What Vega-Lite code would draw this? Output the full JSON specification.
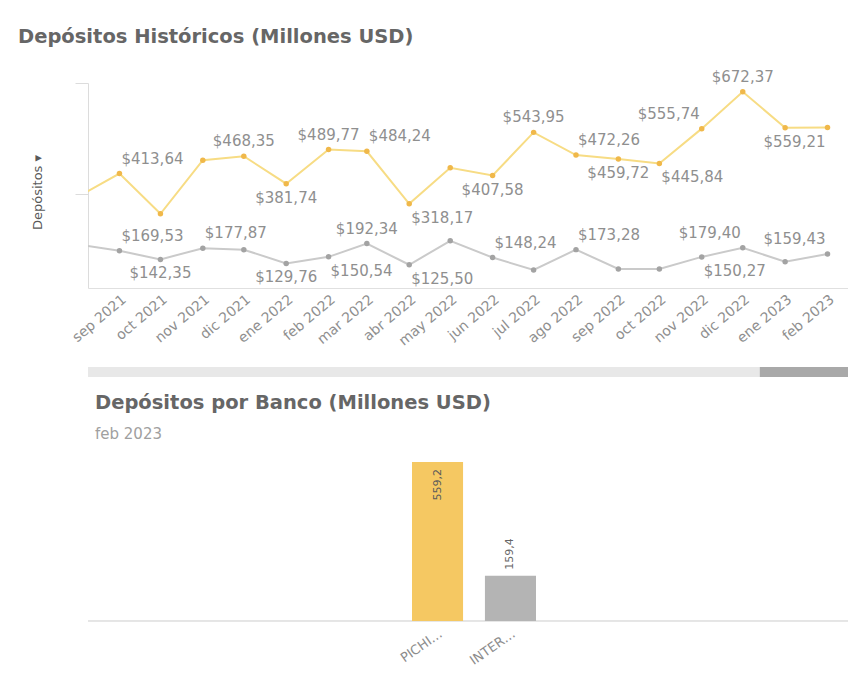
{
  "$schema": "https://vega.github.io/schema/vega-lite/v6.json",
  "padding": {"left": 18, "top": 27, "right": 0, "bottom": 0},
  "background": "white",
  "datasets": {
    "depositos": [
      {"fecha": "2021-08-01", "mes": "ago 2021", "banco": "PICHINCHA", "valor": 339.0},
      {"fecha": "2021-09-01", "mes": "sep 2021", "banco": "PICHINCHA", "valor": 413.64},
      {"fecha": "2021-10-01", "mes": "oct 2021", "banco": "PICHINCHA", "valor": 286.5},
      {"fecha": "2021-11-01", "mes": "nov 2021", "banco": "PICHINCHA", "valor": 456.0},
      {"fecha": "2021-12-01", "mes": "dic 2021", "banco": "PICHINCHA", "valor": 468.35},
      {"fecha": "2022-01-01", "mes": "ene 2022", "banco": "PICHINCHA", "valor": 381.74},
      {"fecha": "2022-02-01", "mes": "feb 2022", "banco": "PICHINCHA", "valor": 489.77},
      {"fecha": "2022-03-01", "mes": "mar 2022", "banco": "PICHINCHA", "valor": 484.24},
      {"fecha": "2022-04-01", "mes": "abr 2022", "banco": "PICHINCHA", "valor": 318.17},
      {"fecha": "2022-05-01", "mes": "may 2022", "banco": "PICHINCHA", "valor": 432.0},
      {"fecha": "2022-06-01", "mes": "jun 2022", "banco": "PICHINCHA", "valor": 407.58},
      {"fecha": "2022-07-01", "mes": "jul 2022", "banco": "PICHINCHA", "valor": 543.95},
      {"fecha": "2022-08-01", "mes": "ago 2022", "banco": "PICHINCHA", "valor": 472.26},
      {"fecha": "2022-09-01", "mes": "sep 2022", "banco": "PICHINCHA", "valor": 459.72},
      {"fecha": "2022-10-01", "mes": "oct 2022", "banco": "PICHINCHA", "valor": 445.84},
      {"fecha": "2022-11-01", "mes": "nov 2022", "banco": "PICHINCHA", "valor": 555.74},
      {"fecha": "2022-12-01", "mes": "dic 2022", "banco": "PICHINCHA", "valor": 672.37},
      {"fecha": "2023-01-01", "mes": "ene 2023", "banco": "PICHINCHA", "valor": 558.5},
      {"fecha": "2023-02-01", "mes": "feb 2023", "banco": "PICHINCHA", "valor": 559.21},
      {"fecha": "2021-08-01", "mes": "ago 2021", "banco": "INTERNACIONAL", "valor": 190.0},
      {"fecha": "2021-09-01", "mes": "sep 2021", "banco": "INTERNACIONAL", "valor": 169.53},
      {"fecha": "2021-10-01", "mes": "oct 2021", "banco": "INTERNACIONAL", "valor": 142.35},
      {"fecha": "2021-11-01", "mes": "nov 2021", "banco": "INTERNACIONAL", "valor": 177.87},
      {"fecha": "2021-12-01", "mes": "dic 2021", "banco": "INTERNACIONAL", "valor": 173.0},
      {"fecha": "2022-01-01", "mes": "ene 2022", "banco": "INTERNACIONAL", "valor": 129.76},
      {"fecha": "2022-02-01", "mes": "feb 2022", "banco": "INTERNACIONAL", "valor": 150.54},
      {"fecha": "2022-03-01", "mes": "mar 2022", "banco": "INTERNACIONAL", "valor": 192.34},
      {"fecha": "2022-04-01", "mes": "abr 2022", "banco": "INTERNACIONAL", "valor": 125.5},
      {"fecha": "2022-05-01", "mes": "may 2022", "banco": "INTERNACIONAL", "valor": 201.0},
      {"fecha": "2022-06-01", "mes": "jun 2022", "banco": "INTERNACIONAL", "valor": 148.24},
      {"fecha": "2022-07-01", "mes": "jul 2022", "banco": "INTERNACIONAL", "valor": 109.0},
      {"fecha": "2022-08-01", "mes": "ago 2022", "banco": "INTERNACIONAL", "valor": 173.28},
      {"fecha": "2022-09-01", "mes": "sep 2022", "banco": "INTERNACIONAL", "valor": 112.0},
      {"fecha": "2022-10-01", "mes": "oct 2022", "banco": "INTERNACIONAL", "valor": 112.0},
      {"fecha": "2022-11-01", "mes": "nov 2022", "banco": "INTERNACIONAL", "valor": 150.27},
      {"fecha": "2022-12-01", "mes": "dic 2022", "banco": "INTERNACIONAL", "valor": 179.4},
      {"fecha": "2023-01-01", "mes": "ene 2023", "banco": "INTERNACIONAL", "valor": 135.0},
      {"fecha": "2023-02-01", "mes": "feb 2023", "banco": "INTERNACIONAL", "valor": 159.43}
    ],
    "desplazamiento": [
      {"parte": "pista", "desde": 0, "hasta": 100},
      {"parte": "cursor", "desde": 88.4, "hasta": 100}
    ]
  },
  "bounds": "flush",
  "spacing": 79,
  "resolve": {"scale": {"color": "independent", "fill": "independent"}},
  "vconcat": [
    {
      "width": 760,
      "height": 205,
      "data": {"name": "depositos"},
      "title": {"text": "Depósitos Históricos (Millones USD)", "anchor": "start", "frame": "group", "dx": -70, "offset": 22, "fontSize": 19.5, "fontWeight": "bold", "color": "#666666"},
      "encoding": {
        "x": {
          "field": "fecha", "type": "temporal",
          "scale": {"type": "utc", "domain": [{"year": 2021, "month": 8, "date": 9, "utc": true}, {"year": 2023, "month": 2, "date": 16, "utc": true}]},
          "axis": {"title": null, "tickCount": {"interval": "month", "step": 1}, "format": "%b %Y", "formatType": "time", "labelAngle": -40, "labelAlign": "right", "labelBaseline": "top", "labelFontSize": 14, "labelColor": "#8f8f8f", "labelPadding": 4, "labelFlush": false, "labelOverlap": false, "ticks": false, "domainColor": "#e0e0e0", "grid": false}
        },
        "y": {
          "field": "valor", "type": "quantitative",
          "scale": {"domain": [52, 700], "nice": false, "zero": false},
          "axis": {"values": [350, 700], "labels": false, "tickSize": 13, "tickColor": "#dcdcdc", "domainColor": "#dcdcdc", "grid": false, "title": "Depósitos      ▾", "titleFontSize": 13, "titleFontWeight": "normal", "titleColor": "#595959", "titlePadding": 30, "titleY": 109, "titleAlign": "center"}
        }
      },
      "layer": [
        {
          "mark": {"type": "line", "strokeWidth": 2, "clip": true},
          "encoding": {"color": {"field": "banco", "type": "nominal", "scale": {"domain": ["PICHINCHA", "INTERNACIONAL"], "range": ["#f7dc84", "#cacaca"]}, "legend": null}}
        },
        {
          "mark": {"type": "point", "filled": true, "size": 30, "opacity": 1, "clip": true},
          "encoding": {"fill": {"field": "banco", "type": "nominal", "scale": {"domain": ["PICHINCHA", "INTERNACIONAL"], "range": ["#f0b84a", "#a3a3a3"]}, "legend": null}}
        },
        {
          "transform": [{"filter": "indexof(['P|sep 2021','P|mar 2022','P|ago 2022','I|sep 2021','I|nov 2021','I|jun 2022','I|ago 2022'], substring(datum.banco,0,1) + '|' + datum.mes) >= 0"}],
          "mark": {"type": "text", "align": "left", "baseline": "bottom", "dx": 2, "dy": -7, "fontSize": 15, "color": "#8f8f8f"},
          "encoding": {"text": {"field": "valor", "type": "quantitative", "format": "$.2f"}}
        },
        {
          "transform": [{"filter": "indexof(['P|dic 2021','P|feb 2022','P|jul 2022','P|dic 2022','I|mar 2022'], substring(datum.banco,0,1) + '|' + datum.mes) >= 0"}],
          "mark": {"type": "text", "align": "center", "baseline": "bottom", "dy": -7, "fontSize": 15, "color": "#8f8f8f"},
          "encoding": {"text": {"field": "valor", "type": "quantitative", "format": "$.2f"}}
        },
        {
          "transform": [{"filter": "indexof(['P|nov 2022','I|dic 2022','I|feb 2023'], substring(datum.banco,0,1) + '|' + datum.mes) >= 0"}],
          "mark": {"type": "text", "align": "right", "baseline": "bottom", "dx": -2, "dy": -7, "fontSize": 15, "color": "#8f8f8f"},
          "encoding": {"text": {"field": "valor", "type": "quantitative", "format": "$.2f"}}
        },
        {
          "transform": [{"filter": "indexof(['P|abr 2022','P|oct 2022','I|feb 2022','I|abr 2022','I|nov 2022'], substring(datum.banco,0,1) + '|' + datum.mes) >= 0"}],
          "mark": {"type": "text", "align": "left", "baseline": "top", "dx": 2, "dy": 7, "fontSize": 15, "color": "#8f8f8f"},
          "encoding": {"text": {"field": "valor", "type": "quantitative", "format": "$.2f"}}
        },
        {
          "transform": [{"filter": "indexof(['P|ene 2022','P|jun 2022','P|sep 2022','I|oct 2021','I|ene 2022'], substring(datum.banco,0,1) + '|' + datum.mes) >= 0"}],
          "mark": {"type": "text", "align": "center", "baseline": "top", "dy": 7, "fontSize": 15, "color": "#8f8f8f"},
          "encoding": {"text": {"field": "valor", "type": "quantitative", "format": "$.2f"}}
        },
        {
          "transform": [{"filter": "indexof(['P|feb 2023'], substring(datum.banco,0,1) + '|' + datum.mes) >= 0"}],
          "mark": {"type": "text", "align": "right", "baseline": "top", "dx": -2, "dy": 7, "fontSize": 15, "color": "#8f8f8f"},
          "encoding": {"text": {"field": "valor", "type": "quantitative", "format": "$.2f"}}
        }
      ]
    },
    {
      "width": 760,
      "height": 10,
      "data": {"name": "desplazamiento"},
      "mark": {"type": "rect"},
      "encoding": {
        "x": {"field": "desde", "type": "quantitative", "scale": {"domain": [0, 100], "nice": false, "zero": false}, "axis": null},
        "x2": {"field": "hasta"},
        "color": {"field": "parte", "type": "nominal", "scale": {"domain": ["pista", "cursor"], "range": ["#e8e8e8", "#a9a9a9"]}, "legend": null}
      }
    },
    {
      "width": 760,
      "height": 165,
      "data": {"name": "depositos"},
      "transform": [{"filter": "datum.mes == 'feb 2023'"}],
      "title": {"text": "Depósitos por Banco (Millones USD)", "subtitle": "feb 2023", "anchor": "start", "frame": "group", "dx": 7, "offset": 13, "fontSize": 19.5, "fontWeight": "bold", "color": "#666666", "subtitleFontSize": 15, "subtitleColor": "#a0a0a0", "subtitlePadding": 14},
      "encoding": {
        "x": {
          "field": "banco", "type": "nominal", "sort": ["PICHINCHA", "INTERNACIONAL"],
          "scale": {"range": [324, 448], "paddingInner": 0.3, "paddingOuter": 0},
          "axis": {"title": null, "labelAngle": -35, "labelAlign": "right", "labelBaseline": "top", "labelLimit": 53, "ticks": false, "domain": false, "labelColor": "#8c8c8c", "labelFontSize": 13, "labelPadding": 6}
        },
        "y": {"field": "valor", "type": "quantitative", "scale": {"domain": [0, 580], "nice": false}, "axis": null}
      },
      "layer": [
        {
          "mark": {"type": "rule", "color": "#dddddd", "strokeWidth": 1},
          "encoding": {"y": {"datum": 0}, "x": null}
        },
        {
          "mark": {"type": "bar"},
          "encoding": {"color": {"field": "banco", "type": "nominal", "scale": {"domain": ["PICHINCHA", "INTERNACIONAL"], "range": ["#f5c862", "#b4b4b4"]}, "legend": null}}
        },
        {
          "transform": [{"filter": "datum.valor > 300"}],
          "mark": {"type": "text", "angle": 270, "align": "right", "baseline": "middle", "dx": -7, "fontSize": 11, "color": "#5a5a5a"},
          "encoding": {"text": {"field": "valor", "type": "quantitative", "format": ".1f"}}
        },
        {
          "transform": [{"filter": "datum.valor <= 300"}],
          "mark": {"type": "text", "angle": 270, "align": "left", "baseline": "middle", "dx": 6, "fontSize": 11, "color": "#666666"},
          "encoding": {"text": {"field": "valor", "type": "quantitative", "format": ".1f"}}
        }
      ]
    }
  ],
  "config": {
    "font": "DejaVu Sans",
    "view": {"stroke": null},
    "axis": {"grid": false, "labelFont": "DejaVu Sans", "titleFont": "DejaVu Sans"},
    "title": {"font": "DejaVu Sans", "subtitleFont": "DejaVu Sans"},
    "text": {"font": "DejaVu Sans"},
    "locale": {
      "number": {"decimal": ",", "thousands": ".", "grouping": [3], "currency": ["$", ""]},
      "time": {
        "dateTime": "%A, %e de %B de %Y, %X",
        "date": "%d/%m/%Y",
        "time": "%H:%M:%S",
        "periods": ["AM", "PM"],
        "days": ["domingo", "lunes", "martes", "miércoles", "jueves", "viernes", "sábado"],
        "shortDays": ["dom", "lun", "mar", "mié", "jue", "vie", "sáb"],
        "months": ["enero", "febrero", "marzo", "abril", "mayo", "junio", "julio", "agosto", "septiembre", "octubre", "noviembre", "diciembre"],
        "shortMonths": ["ene", "feb", "mar", "abr", "may", "jun", "jul", "ago", "sep", "oct", "nov", "dic"]
      }
    }
  }
}
